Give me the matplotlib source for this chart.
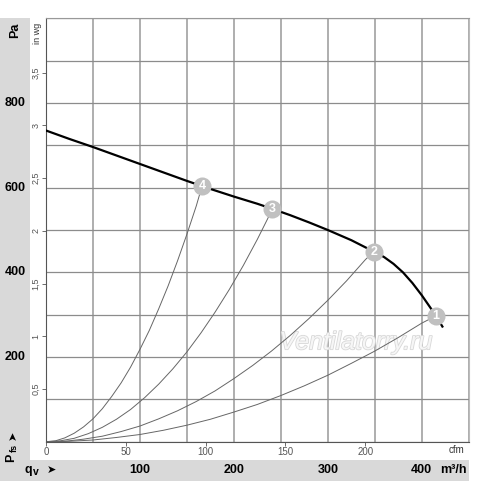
import matplotlib.pyplot as plt
import matplotlib.transforms as mtransforms
import matplotlib.patheffects as pe
from matplotlib.patches import Rectangle

plt.rcParams['font.family'] = ['Liberation Sans', 'DejaVu Sans']

# fan curve (m3/h, Pa)
fan_q = [0, 25, 50, 75, 100, 125, 150, 175, 200, 225, 241, 260, 280, 300, 325, 349,
         360, 370, 380, 390, 400, 410, 416, 422]
fan_pa = [735, 715, 696, 676, 656, 636, 616, 597, 579, 562, 550, 535, 518, 500, 476, 449,
          436, 420, 400, 375, 346, 314, 294, 272]

# system curves 1..4 (m3/h, Pa)
sys1_q = [0, 25, 50, 75, 100, 125, 150, 175, 200, 225, 250, 275, 300, 325, 350, 375, 400, 415]
sys1_pa = [0, 1, 4, 10, 17, 27, 39, 53, 70, 88, 109, 132, 157, 185, 214, 246, 280, 297]
sys2_q = [0, 20, 40, 60, 80, 100, 120, 140, 160, 180, 200, 220, 240, 260, 280, 300, 320, 340, 349]
sys2_pa = [0, 1, 6, 13, 24, 37, 54, 73, 95, 120, 149, 180, 214, 251, 291, 334, 380, 430, 449]
sys3_q = [0, 15, 30, 45, 60, 75, 90, 105, 120, 135, 150, 165, 180, 195, 210, 225, 241]
sys3_pa = [0, 2, 8, 19, 34, 53, 76, 104, 136, 172, 212, 257, 306, 359, 416, 478, 549]
sys4_q = [0, 10, 20, 30, 40, 50, 60, 70, 80, 90, 100, 110, 120, 130, 140, 150, 160, 166]
sys4_pa = [0, 2, 9, 20, 35, 54, 78, 107, 139, 176, 218, 263, 314, 368, 427, 490, 557, 603]

# operating points
op_labels = ['1', '2', '3', '4']
op_q = [415, 349, 241, 166]
op_pa = [297, 449, 549, 603]

pa_labels = [200, 400, 600, 800]
m3h_labels = [100, 200, 300, 400]
inwg_ticks = [0.5, 1, 1.5, 2, 2.5, 3, 3.5]
inwg_labels = ['0,5', '1', '1,5', '2', '2,5', '3', '3,5']
cfm_ticks = [0, 50, 100, 150, 200]

fig = plt.figure(figsize=(5, 4.82), dpi=100)

strip = '#d9d9d9'
fig.patches.append(Rectangle((0, 0.002), 0.059, 0.96, transform=fig.transFigure,
                             facecolor=strip, edgecolor='none', zorder=0))
fig.patches.append(Rectangle((0, 0.002), 0.9374, 0.0437, transform=fig.transFigure,
                             facecolor=strip, edgecolor='none', zorder=0))

ax = fig.add_axes([0.092, 0.0836, 0.8454, 0.8784])
ax.set_zorder(2)
ax.set_xlim(0, 450)
ax.set_ylim(0, 1000)
ax.set_xticks(range(0, 451, 50))
ax.set_yticks(range(0, 1001, 100))
ax.tick_params(length=0, labelbottom=False, labelleft=False)
ax.grid(axis='x', color='#a8a8a8', lw=1.3)
ax.grid(axis='y', color='#8c8c8c', lw=0.9)
ax.set_axisbelow(True)
ax.spines['left'].set_color('#555555')
ax.spines['bottom'].set_color('#555555')
ax.spines['top'].set_color('#999999')
ax.spines['right'].set_color('#bbbbbb')

ax.text(330, 235, 'Ventilatorry.ru', fontsize=18, style='italic', color='#f6f6f6',
        ha='center', va='center', zorder=1,
        path_effects=[pe.withStroke(linewidth=1.2, foreground='#d8d8d8')])

for q, p in [(sys1_q, sys1_pa), (sys2_q, sys2_pa), (sys3_q, sys3_pa), (sys4_q, sys4_pa)]:
    ax.plot(q, p, color='#666666', lw=0.7, zorder=2)
ax.plot(fan_q, fan_pa, color='black', lw=1.6, zorder=3)

ax.plot(op_q, op_pa, 'o', color='#c0c0c0', markersize=13, markeredgewidth=0, zorder=4)
for lab, q, p in zip(op_labels, op_q, op_pa):
    ax.text(q, p, lab, color='white', fontsize=9, fontweight='bold',
            ha='center', va='center', zorder=5)

# secondary scales
sec_y = ax.secondary_yaxis('left', functions=(lambda p: p / 249.09, lambda w: w * 249.09))
sec_y.set_yticks(inwg_ticks)
sec_y.set_yticklabels(inwg_labels, rotation=90, va='center', fontsize=6.5, color='#333333')
sec_y.tick_params(direction='out', length=3, width=0.6, pad=1, colors='#555555')
sec_y.spines['left'].set_visible(False)

sec_x = ax.secondary_xaxis('bottom', functions=(lambda q: q / 1.699, lambda c: c * 1.699))
sec_x.set_xticks(cfm_ticks)
sec_x.set_xticklabels([str(c) for c in cfm_ticks], fontsize=7, color='#333333')
sec_x.tick_params(direction='out', length=3, width=0.6, pad=1, colors='#555555')
sec_x.spines['bottom'].set_visible(False)

trans_y = mtransforms.blended_transform_factory(fig.transFigure, ax.transData)
trans_x = mtransforms.blended_transform_factory(ax.transData, fig.transFigure)

ax.text(0.076, 965, 'in wg', transform=trans_y, rotation=90, fontsize=6.5,
        color='#333333', ha='center', va='center')
ax.text(437, 0.0664, 'cfm', transform=trans_x, fontsize=7, color='#333333',
        ha='center', va='center')

for v in pa_labels:
    ax.text(0.03, v, str(v), transform=trans_y, fontsize=9, fontweight='bold',
            ha='center', va='center')
for v in m3h_labels:
    ax.text(v, 0.0249, str(v), transform=trans_x, fontsize=9, fontweight='bold',
            ha='center', va='center')
ax.text(434, 0.0249, 'm³/h', transform=trans_x, fontsize=9, fontweight='bold',
        ha='center', va='center')

fig.text(0.03, 1 - 30 / 482, 'Pa', rotation=90, fontsize=9, fontweight='bold',
         ha='center', va='center')
fig.text(0.022, 1 - 458 / 482, 'P', rotation=90, fontsize=9, fontweight='bold',
         ha='center', va='center')
fig.text(0.028, 1 - 448 / 482, 'fs', rotation=90, fontsize=6.5, fontweight='bold',
         ha='center', va='center')
fig.text(0.025, 1 - 435 / 482, '➤', rotation=90, fontsize=8, family='DejaVu Sans',
         ha='center', va='center')
fig.text(0.056, 1 - 470 / 482, 'q', fontsize=9, fontweight='bold',
         ha='center', va='center')
fig.text(0.071, 1 - 472 / 482, 'v', fontsize=7.5, fontweight='bold',
         ha='center', va='center')
fig.text(0.102, 1 - 470 / 482, '➤', fontsize=8, family='DejaVu Sans',
         ha='center', va='center')

fig.savefig('out.png', dpi=100)
